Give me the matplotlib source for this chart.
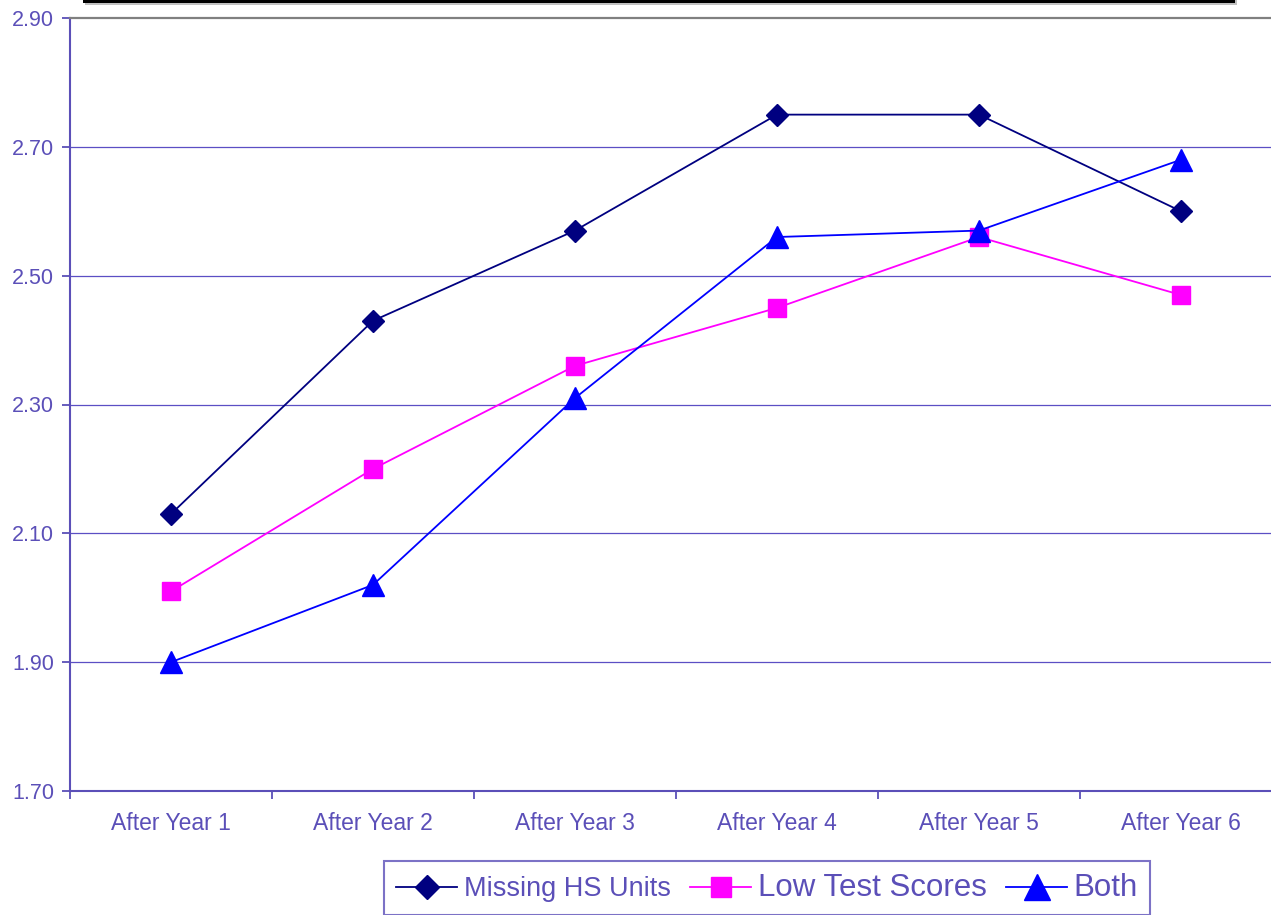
import matplotlib
matplotlib.use("Agg")
import matplotlib.pyplot as plt
from matplotlib.patches import Rectangle

# -------------------------
# Data
# -------------------------

categories = [
    "After Year 1",
    "After Year 2",
    "After Year 3",
    "After Year 4",
    "After Year 5",
    "After Year 6",
]

missing_hs = [2.13, 2.43, 2.57, 2.75, 2.75, 2.60]
low_test = [2.01, 2.20, 2.36, 2.45, 2.56, 2.47]
both = [1.90, 2.02, 2.31, 2.56, 2.57, 2.68]

y_ticks = [1.70, 1.90, 2.10, 2.30, 2.50, 2.70, 2.90]

# -------------------------
# Style
# -------------------------

TXT = "#5b4fb8"
GRID = "#5b4fc4"

plt.rcParams["font.family"] = ["Liberation Sans", "DejaVu Sans"]

W, H = 1271, 915
fig = plt.figure(figsize=(W / 100, H / 100), dpi=100)
ax = fig.add_axes([70 / W, (H - 791) / H, (W - 70) / W, (791 - 18) / H])

x = list(range(len(categories)))

ax.plot(x, missing_hs, color="#000080", lw=1.3, marker="D",
        ms=11, mfc="#000080", mec="#000080", label="Missing HS Units",
        zorder=4)
ax.plot(x, low_test, color="#ff00ff", lw=1.3, marker="s",
        ms=13, mfc="#ff00ff", mec="#ff00ff", label="Low Test Scores",
        zorder=4)
ax.plot(x, both, color="#0000ff", lw=1.3, marker="^",
        ms=16, mfc="#0000ff", mec="#0000ff", label="Both",
        zorder=4)

ax.set_ylim(1.70, 2.90)
ax.set_yticks(y_ticks)
ax.set_yticklabels([f"{v:.2f}" for v in y_ticks])

# right edge of the plot runs off the picture
ax.set_xlim(-0.5, 5.5 - 11 / 202)
ax.set_xticks([i - 0.5 for i in range(len(categories))])
ax.set_xticklabels([])
ax.set_xticks(x, minor=True)
ax.set_xticklabels(categories, minor=True)

ax.tick_params(axis="x", which="major", direction="out", length=6,
               width=1.3, color=TXT)
ax.tick_params(axis="x", which="minor", length=0, pad=15,
               labelsize=16.5, labelcolor=TXT)
ax.tick_params(axis="y", direction="out", length=6, width=1.3,
               color=TXT, labelsize=15.5, labelcolor=TXT, pad=5.5)

for yv in y_ticks[1:-1]:
    ax.axhline(yv, color=GRID, lw=0.9, zorder=1)

for side in ["left", "bottom"]:
    ax.spines[side].set_color(TXT)
    ax.spines[side].set_linewidth(1.5)
ax.spines["top"].set_color("#808080")
ax.spines["top"].set_linewidth(1.6)
ax.spines["right"].set_visible(False)

# -------------------------
# Legend
# -------------------------

leg = fig.legend(
    loc="center",
    bbox_to_anchor=(767 / W, (H - 888) / H),
    ncol=3,
    frameon=True,
    fancybox=False,
    fontsize=19,
    handlelength=2.3,
    handletextpad=0.25,
    columnspacing=0.75,
    borderpad=0.45,
    markerscale=1.15,
    labelcolor=TXT,
)
leg.get_texts()[0].set_fontsize(19.5)
leg.get_texts()[1].set_fontsize(22.5)
leg.get_texts()[2].set_fontsize(22.5)
leg.get_frame().set_edgecolor(TXT)
leg.get_frame().set_linewidth(1.5)

# -------------------------
# Cut-off title box at the top
# -------------------------

fig.patches.append(Rectangle((85 / W, (H - 5) / H), 1152 / W, 10 / H,
                             transform=fig.transFigure, facecolor="#c0c0c0",
                             edgecolor="none", clip_on=False))
fig.patches.append(Rectangle((83 / W, (H - 3) / H), 1152 / W, 10 / H,
                             transform=fig.transFigure, facecolor="black",
                             edgecolor="none", clip_on=False))

fig.savefig("out.png", dpi=100)
